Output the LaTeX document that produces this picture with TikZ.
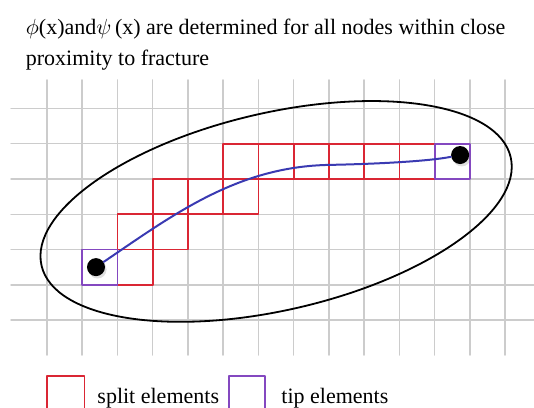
\documentclass[tikz,border=0pt]{standalone}
\usepackage{fontspec}
\setmainfont{Liberation Serif}
\usetikzlibrary{shadows}
\definecolor{MeshLine}{gray}{0.80}
\definecolor{SplitRed}{RGB}{218,38,52}
\definecolor{TipPurple}{RGB}{132,72,192}
\definecolor{CrackBlue}{RGB}{58,58,178}
\tikzset{
    frac/diagram/.style={
        x=17.625pt, y=17.625pt,
        line cap=round,
        line join=round,
        font=\fontsize{11}{13}\selectfont
    },
    frac/mesh/.style={draw=MeshLine, line width=0.75pt},
    frac/split/.style={draw=SplitRed, line width=0.8pt},
    frac/tip/.style={draw=TipPurple, line width=0.8pt},
    frac/zone/.style={draw=black, line width=0.9pt},
    frac/crack/.style={draw=CrackBlue, line width=1pt},
    frac/point/.style={
        circle, fill=black, draw=none, inner sep=0pt, minimum size=9pt,
        drop shadow={opacity=0.25, shadow xshift=0.8pt, shadow yshift=-1.2pt}
    },
    frac/label/.style={anchor=base west, inner sep=0pt}
}
\begin{document}
\begin{tikzpicture}[frac/diagram]
    \useasboundingbox (-1.333,-2.496) rectangle (13.816,9.078);
    % background mesh
    \foreach \y in {0,...,6}
        \draw[frac/mesh] (-1.02,\y) -- (13.816,\y);
    \foreach \x in {0,...,13}
        \draw[frac/mesh] (\x,-0.993) -- (\x,6.809);
    % region close to the fracture
    \draw[frac/zone, rotate around={13:(6.50,3.08)}] (6.50,3.08) ellipse (6.83 and 2.80);
    % split and tip elements along the crack
    \foreach \x/\y in {2/1,2/2,3/2,3/3,4/3,5/3,5/4,6/4,7/4,8/4,9/4,10/4}
        \draw[frac/split] (\x,\y) rectangle ++(1,1);
    \draw[frac/tip] (1,1) rectangle ++(1,1);
    \draw[frac/tip] (11,4) rectangle ++(1,1);
    % crack tips and crack path
    \node[frac/point] (tipL) at (1.39,1.50) {};
    \node[frac/point] (tipR) at (11.72,4.68) {};
    \draw[frac/crack] (tipL) .. controls (3.6,3.0) and (5.4,4.35) .. (8,4.4)
        .. controls (9.3,4.425) and (10.8,4.5) .. (tipR);
    % caption
    \node[frac/label] (title1) at (-0.61,8.11)
        {$\phi$(x)and$\psi$\,(x) are determined for all nodes within close};
    \node[frac/label] (title2) at (-0.61,7.23) {proximity to fracture};
    % legend
    \draw[frac/split] (0,-1.59) rectangle (1.06,-2.65);
    \node[frac/label] (splitkey) at (1.42,-2.355) {split elements};
    \draw[frac/tip] (5.16,-1.59) rectangle (6.18,-2.65);
    \node[frac/label] (tipkey) at (6.64,-2.355) {tip elements};
\end{tikzpicture}
\end{document}
